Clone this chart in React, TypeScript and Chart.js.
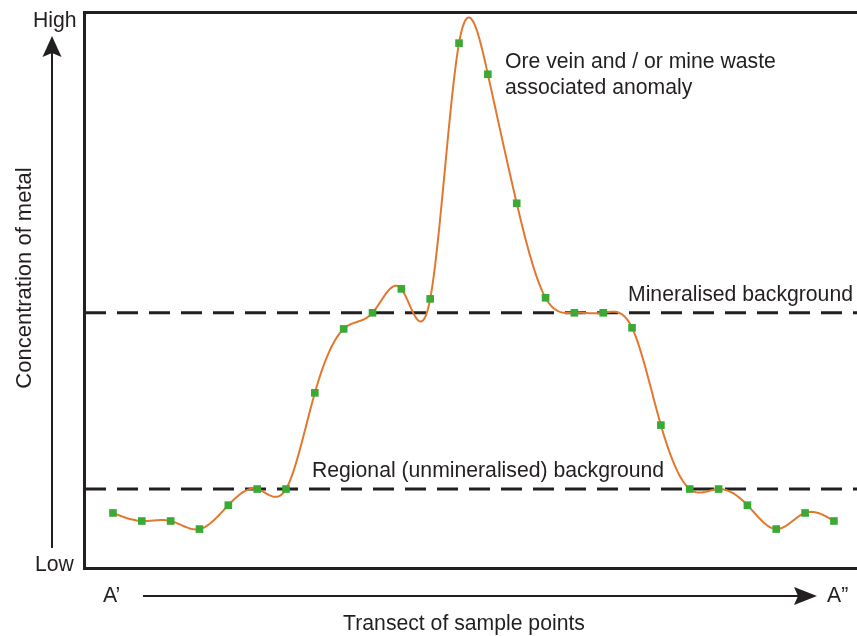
import React, { useEffect, useRef } from 'react';
import { Chart, registerables } from 'chart.js';

Chart.register(...registerables);

// ---- Data ----
const samplePositions = [1, 2, 3, 4, 5, 6, 7, 8, 9, 10, 11, 12, 13, 14, 15, 16, 17, 18, 19, 20, 21, 22, 23, 24, 25, 26];
const concentration = [9.9, 8.45, 8.45, 7.0, 11.3, 14.2, 14.2, 31.5, 43.0, 45.9, 50.2, 48.4, 94.4, 88.8, 65.6, 48.6, 45.9, 45.9, 43.2, 25.7, 14.2, 14.2, 11.3, 7.0, 9.9, 8.45];
const mineralisedBackground = 45.9;
const regionalBackground = 14.2;
const xRange = [0.03, 26.8];
const yRange = [0, 100];

const yEndLabels = ['High', 'Low'];
const xEndLabels = ['A\u2019', 'A\u201D'];
const yTitle = 'Concentration of metal';
const xTitle = 'Transect of sample points';
const anomalyLabel = ['Ore vein and / or mine waste', 'associated anomaly'];
const mineralisedLabel = 'Mineralised background';
const regionalLabel = 'Regional (unmineralised) background';

const INK = '#231F20';
const ORANGE = '#E2782F';
const GREEN = '#3AAA35';
const FAMILY = '"Liberation Sans", Arial, Helvetica, sans-serif';
const FONT = '21.2px ' + FAMILY;
const TITLE_FONT = '22px ' + FAMILY;

function naturalSpline(xs: number[], ys: number[]) {
  const n = xs.length;
  const h: number[] = [];
  for (let i = 0; i < n - 1; i++) h.push(xs[i + 1] - xs[i]);
  const a: number[] = new Array(n).fill(0);
  const b: number[] = new Array(n).fill(0);
  const c: number[] = new Array(n).fill(0);
  const d: number[] = new Array(n).fill(0);
  b[0] = 1; b[n - 1] = 1;
  for (let i = 1; i < n - 1; i++) {
    a[i] = h[i - 1];
    b[i] = 2 * (h[i - 1] + h[i]);
    c[i] = h[i];
    d[i] = 6 * ((ys[i + 1] - ys[i]) / h[i] - (ys[i] - ys[i - 1]) / h[i - 1]);
  }
  const cp: number[] = new Array(n).fill(0);
  const dp: number[] = new Array(n).fill(0);
  cp[0] = c[0] / b[0];
  dp[0] = d[0] / b[0];
  for (let i = 1; i < n; i++) {
    const m = b[i] - a[i] * cp[i - 1];
    cp[i] = c[i] / m;
    dp[i] = (d[i] - a[i] * dp[i - 1]) / m;
  }
  const M: number[] = new Array(n).fill(0);
  M[n - 1] = dp[n - 1];
  for (let i = n - 2; i >= 0; i--) M[i] = dp[i] - cp[i] * M[i + 1];
  return (x: number) => {
    let i = 0;
    while (i < n - 2 && x > xs[i + 1]) i++;
    const hh = h[i];
    const t = (x - xs[i]) / hh;
    const u = 1 - t;
    return u * ys[i] + t * ys[i + 1] + ((u * u * u - u) * M[i] + (t * t * t - t) * M[i + 1]) * hh * hh / 6;
  };
}

const splinePlugin = {
  id: 'splineCurve',
  beforeDatasetDraw(chart: any, args: any) {
    if (args.index !== 0) return;
    const ctx = chart.ctx;
    const xs = chart.scales.x;
    const ys = chart.scales.y;
    const f = naturalSpline(samplePositions, concentration);
    ctx.save();
    ctx.beginPath();
    const x0 = samplePositions[0];
    const x1 = samplePositions[samplePositions.length - 1];
    const steps = 600;
    for (let s = 0; s <= steps; s++) {
      const xv = x0 + (x1 - x0) * (s / steps);
      const px = xs.getPixelForValue(xv);
      const py = ys.getPixelForValue(f(xv));
      if (s === 0) ctx.moveTo(px, py); else ctx.lineTo(px, py);
    }
    ctx.strokeStyle = ORANGE;
    ctx.lineWidth = 2;
    ctx.lineJoin = 'round';
    ctx.stroke();
    ctx.restore();
  },
};

function arrowHead(ctx: CanvasRenderingContext2D, tipX: number, tipY: number, dx: number, dy: number, len: number, half: number) {
  const bx = tipX - dx * len;
  const by = tipY - dy * len;
  const nx = -dy, ny = dx;
  ctx.beginPath();
  ctx.moveTo(tipX, tipY);
  ctx.lineTo(bx + nx * half, by + ny * half);
  ctx.lineTo(tipX - dx * (len - 4), tipY - dy * (len - 4));
  ctx.lineTo(bx - nx * half, by - ny * half);
  ctx.closePath();
  ctx.fill();
}

const decorPlugin = {
  id: 'decor',
  afterDraw(chart: any) {
    const ctx: CanvasRenderingContext2D = chart.ctx;
    const { left, top, bottom } = chart.chartArea;
    const right = chart.width;
    const ys = chart.scales.y;
    ctx.save();
    ctx.strokeStyle = INK;
    ctx.lineWidth = 3;
    ctx.beginPath();
    ctx.moveTo(right, top + 0.5);
    ctx.lineTo(left - 0.5, top + 0.5);
    ctx.lineTo(left - 0.5, bottom + 0.5);
    ctx.lineTo(right, bottom + 0.5);
    ctx.stroke();

    ctx.fillStyle = INK;
    ctx.lineWidth = 2;
    ctx.beginPath();
    ctx.moveTo(52, 548);
    ctx.lineTo(52, 52);
    ctx.stroke();
    arrowHead(ctx, 52, 36, 0, -1, 21, 9.5);

    ctx.beginPath();
    ctx.moveTo(143, 596);
    ctx.lineTo(800, 596);
    ctx.stroke();
    arrowHead(ctx, 817, 596, 1, 0, 23, 9);

    ctx.font = FONT;
    ctx.fillStyle = INK;
    ctx.textBaseline = 'alphabetic';
    ctx.textAlign = 'left';
    ctx.fillText(yEndLabels[0], 33, 27);
    ctx.fillText(yEndLabels[1], 35, 571);
    ctx.fillText(xEndLabels[0], 103, 602);
    ctx.fillText(xEndLabels[1], 827, 602);
    ctx.textAlign = 'center';
    ctx.fillText(xTitle, 464, 630);

    ctx.textAlign = 'left';
    ctx.fillText(anomalyLabel[0], 505, 68);
    ctx.fillText(anomalyLabel[1], 505, 94);
    ctx.fillText(mineralisedLabel, 628, ys.getPixelForValue(mineralisedBackground) - 12);
    ctx.fillText(regionalLabel, 312, ys.getPixelForValue(regionalBackground) - 12);

    ctx.save();
    ctx.font = TITLE_FONT;
    ctx.translate(31, 278);
    ctx.rotate(-Math.PI / 2);
    ctx.textAlign = 'center';
    ctx.fillText(yTitle, 0, 0);
    ctx.restore();

    ctx.restore();
  },
};

export default function App() {
  const ref = useRef<HTMLCanvasElement | null>(null);
  useEffect(() => {
    if (!ref.current) return;
    const dashed = (v: number) => ({
      data: [{ x: xRange[0], y: v }, { x: xRange[1], y: v }],
      borderColor: INK,
      borderWidth: 3,
      borderDash: [21, 11],
      pointRadius: 0,
      fill: false,
      tension: 0,
      order: 1,
    });
    const chart = new Chart(ref.current, {
      type: 'line',
      data: {
        datasets: [
          {
            data: samplePositions.map((x, i) => ({ x, y: concentration[i] })),
            showLine: false,
            pointStyle: 'rect',
            pointRadius: 5.4,
            pointBackgroundColor: GREEN,
            pointBorderWidth: 0,
            borderColor: GREEN,
            order: 0,
          } as any,
          dashed(mineralisedBackground) as any,
          dashed(regionalBackground) as any,
        ],
      },
      options: {
        animation: false,
        responsive: false,
        devicePixelRatio: 1,
        events: [],
        layout: { autoPadding: false, padding: { left: 85, top: 12, right: 0, bottom: 68 } },
        plugins: { legend: { display: false }, tooltip: { enabled: false } },
        scales: {
          x: { type: 'linear', min: xRange[0], max: xRange[1], display: false },
          y: { type: 'linear', min: yRange[0], max: yRange[1], display: false },
        },
      } as any,
      plugins: [splinePlugin, decorPlugin],
    });
    return () => chart.destroy();
  }, []);
  return (
    <div style={{ position: 'fixed', left: 0, top: 0, width: 857, height: 636, background: '#fff' }}>
      <canvas ref={ref} width={857} height={636} style={{ display: 'block' }} />
    </div>
  );
}
